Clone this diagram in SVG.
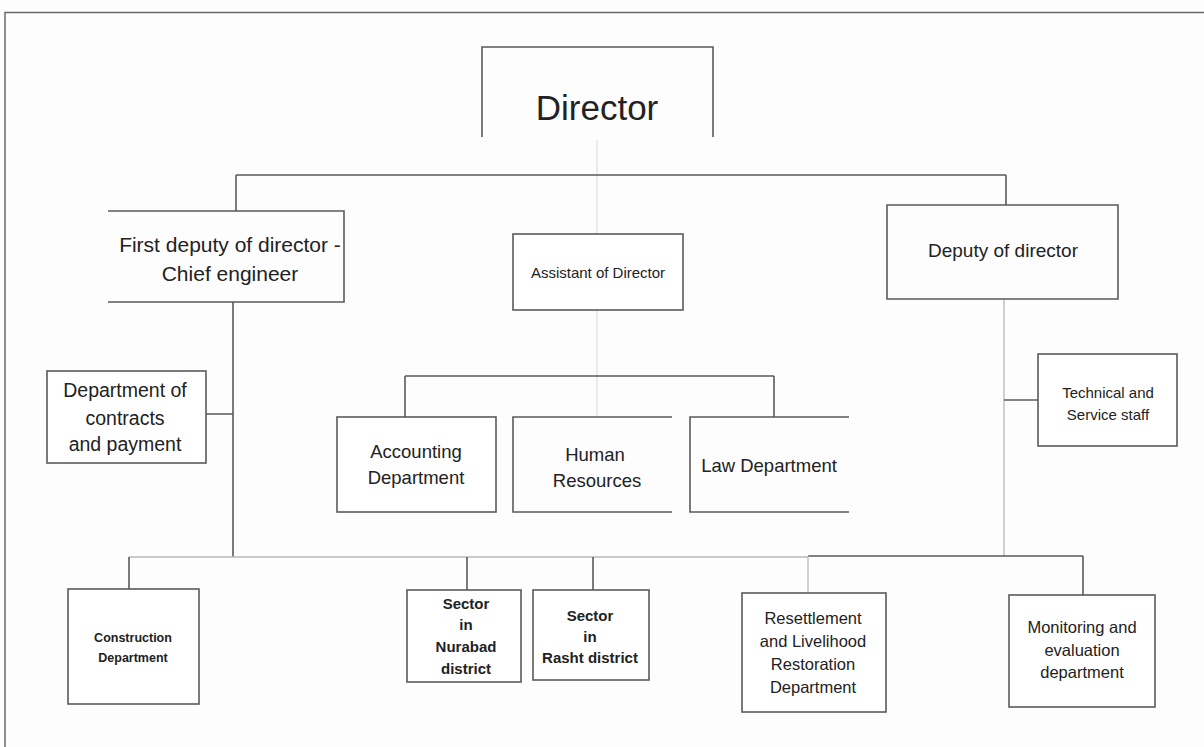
<svg xmlns="http://www.w3.org/2000/svg" width="1204" height="747" viewBox="0 0 1204 747">
<style>
.frame{fill:none;stroke:#6a6a6a;stroke-width:1.5}
.ln{fill:none;stroke:#5a5a5a;stroke-width:1.6}
.lt{fill:none;stroke:#b8b8b8;stroke-width:1.3}
.fa{fill:none;stroke:#e2e2e2;stroke-width:1.3}
.bx{fill:#fff;stroke:#5a5a5a;stroke-width:1.6}
.t{font-family:"Liberation Sans",Arial,sans-serif;fill:#222;text-anchor:middle}
.b{font-weight:bold}
</style>
<rect x="0" y="0" width="1204" height="747" fill="#fdfdfd"/>
<path class="frame" d="M5 747 V12.5 H1204"/>
<g id="connectors">
<path class="fa" d="M597 140 V234 M597 310 V417"/>
<path class="ln" d="M236 175 H1006 M236 175 V211 M1006 175 V205"/>
<path class="ln" d="M233 302 V557 M206 414 H233"/>
<path class="ln" d="M405 376 H774 M405 376 V417 M774 376 V417"/>
<path class="lt" d="M1004 299 V556"/>
<path class="ln" d="M1004 400 H1038"/>
<path class="lt" d="M129 557 H808"/>
<path class="ln" d="M808 556 H1083 M1083 556 V595"/>
<path class="ln" d="M129 557 V589 M467 557 V590 M593 557 V590"/>
<path class="lt" d="M808 556 V593"/>
</g>
<g id="director">
<path class="ln" d="M482 137 V47 H713 V137"/>
<text class="t" x="597" y="120" font-size="35">Director</text>
</g>
<g id="first-deputy">
<path class="ln" d="M108 211 H344 V302 H108"/>
<text class="t" x="230" y="252" font-size="21">First deputy of director -</text>
<text class="t" x="230" y="281" font-size="21">Chief engineer</text>
</g>
<g id="assistant">
<rect class="bx" x="513" y="234" width="170" height="76"/>
<text class="t" x="598" y="278" font-size="15">Assistant of Director</text>
</g>
<g id="deputy">
<path class="ln" d="M887 205 H1118 V299 H887 Z"/>
<text class="t" x="1003" y="257" font-size="19">Deputy of director</text>
</g>
<g id="contracts">
<rect class="bx" x="47" y="371" width="159" height="92"/>
<text class="t" x="125" y="397" font-size="19.5">Department of</text>
<text class="t" x="125" y="425" font-size="19.5">contracts</text>
<text class="t" x="125" y="451" font-size="19.5">and payment</text>
</g>
<g id="accounting">
<rect class="bx" x="337" y="417" width="159" height="95"/>
<text class="t" x="416" y="458" font-size="18.5">Accounting</text>
<text class="t" x="416" y="484" font-size="18.5">Department</text>
</g>
<g id="human-resources">
<path class="ln" d="M672 417 H513 V512 H672"/>
<text class="t" x="595" y="461" font-size="18.5">Human</text>
<text class="t" x="597" y="487" font-size="18.5">Resources</text>
</g>
<g id="law">
<path class="ln" d="M849 417 H690 V512 H849"/>
<text class="t" x="769" y="472" font-size="18.5">Law Department</text>
</g>
<g id="technical">
<rect class="bx" x="1038" y="354" width="139" height="92"/>
<text class="t" x="1108" y="398" font-size="15">Technical and</text>
<text class="t" x="1108" y="420" font-size="15">Service staff</text>
</g>
<g id="construction">
<rect class="bx" x="68" y="589" width="131" height="115"/>
<text class="t b" x="133" y="642" font-size="12.5">Construction</text>
<text class="t b" x="133" y="662" font-size="12.5">Department</text>
</g>
<g id="nurabad">
<rect class="bx" x="407" y="590" width="114" height="92"/>
<text class="t b" x="466" y="609" font-size="15">Sector</text>
<text class="t b" x="466" y="630" font-size="15">in</text>
<text class="t b" x="466" y="652" font-size="15">Nurabad</text>
<text class="t b" x="466" y="674" font-size="15">district</text>
</g>
<g id="rasht">
<rect class="bx" x="533" y="590" width="116" height="90"/>
<text class="t b" x="590" y="621" font-size="15">Sector</text>
<text class="t b" x="590" y="642" font-size="15">in</text>
<text class="t b" x="590" y="663" font-size="15">Rasht district</text>
</g>
<g id="resettlement">
<rect class="bx" x="742" y="593" width="144" height="119"/>
<text class="t" x="813" y="624" font-size="16.5">Resettlement</text>
<text class="t" x="813" y="647" font-size="16.5">and Livelihood</text>
<text class="t" x="813" y="670" font-size="16.5">Restoration</text>
<text class="t" x="813" y="693" font-size="16.5">Department</text>
</g>
<g id="monitoring">
<rect class="bx" x="1009" y="595" width="146" height="112"/>
<text class="t" x="1082" y="633" font-size="16.5">Monitoring and</text>
<text class="t" x="1082" y="656" font-size="16.5">evaluation</text>
<text class="t" x="1082" y="678" font-size="16.5">department</text>
</g>
</svg>
